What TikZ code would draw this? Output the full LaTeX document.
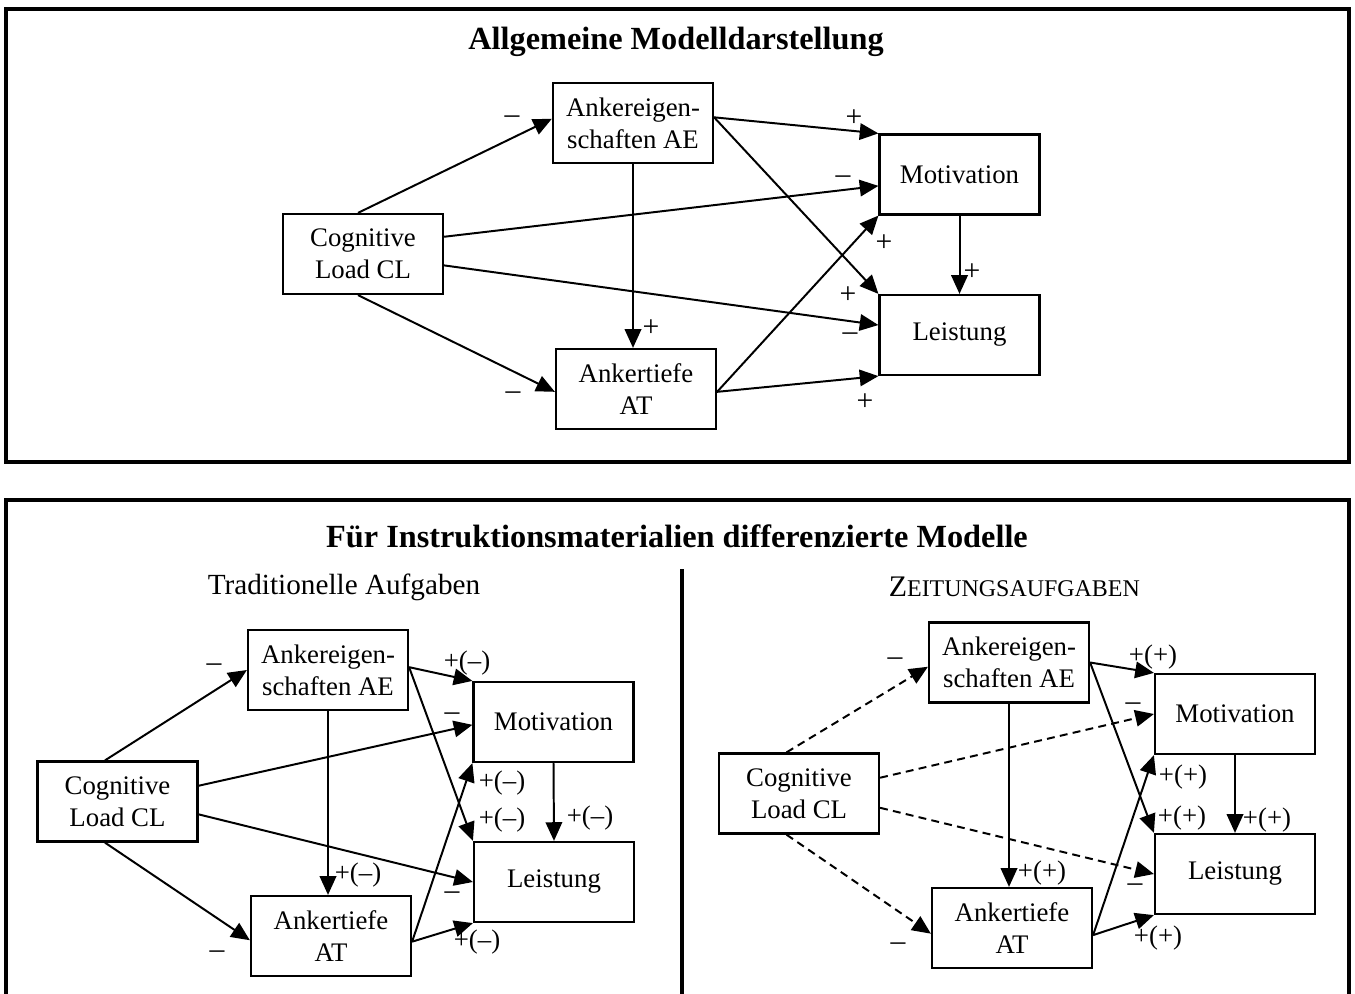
\documentclass[tikz,border=0pt]{standalone}
\usepackage{fontspec}
\setmainfont{Liberation Serif}
\usetikzlibrary{arrows.meta}
\usetikzlibrary{calc}

\tikzset{
  box/.style = {draw, line width=1pt, minimum width=2.56cm, minimum height=1.28cm,
    align=center, inner sep=0pt, font=\fontsize{12.2}{14.5}\selectfont},
  arr/.style = {line width=0.9pt, -{Triangle[length=8.5pt,width=7.5pt]}},
  dsh/.style = {arr, dash pattern=on 3.6pt off 2.4pt},
  sgn/.style = {inner sep=0pt, font=\fontsize{12.2}{14}\selectfont},
  bigsgn/.style = {sgn, font=\fontsize{13.5}{15}\selectfont},
  panel/.style = {line width=1.4pt},
  heading/.style = {font=\fontsize{14.7}{17}\selectfont\bfseries},
}

\begin{document}
\begin{tikzpicture}
  \useasboundingbox (0,0) rectangle (21.68,-15.904);

  % frames
  \draw [panel] (0.096,-0.144) rectangle (21.584,-7.392);
  \draw [panel] (0.096,-15.904) -- (0.096,-8.0) -- (21.584,-8.0) -- (21.584,-15.904);
  \draw [panel] (10.912,-9.104) -- (10.912,-15.904);

  \node [heading] (title) at (10.816,-0.672) {Allgemeine Modelldarstellung};
  \node [heading] (title2) at (10.832,-8.576) {Für Instruktionsmaterialien differenzierte Modelle};
  \node [font=\fontsize{13.3}{15}\selectfont] (trad) at (5.504,-9.392) {Traditionelle Aufgaben};
  \node (zeit) at (16.23,-9.392)
    {\fontsize{13.6}{15}\selectfont Z\fontsize{10.9}{12}\selectfont EITUNGSAUFGABEN};

  % general model
  \node [box] (cl) at (5.808,-4.064) {Cognitive\\Load CL};
  \node [box] (ae) at (10.128,-1.968) {Ankereigen-\\schaften AE};
  \node [box] (atf) at (10.176,-6.224) {Ankertiefe\\AT};
  \node [box] (mot) at (15.352,-2.792) {Motivation};
  \node [box] (lei) at (15.352,-5.36) {Leistung};

  \draw [arr] (cl.97) -- (ae.177);
  \draw [arr] (cl.12) -- (mot.188);
  \draw [arr] (cl.-8) -- (lei.173);
  \draw [arr] (cl.263) -- (atf.182);
  \draw [arr] (ae.south) -- (ae.south |- atf.north);
  \draw [arr] (ae.4) -- (mot.north west);
  \draw [arr] (ae.4) -- (lei.north west);
  \draw [arr] (atf.-2) -- (mot.south west);
  \draw [arr] (atf.-2) -- (lei.south west);
  \draw [arr] (mot.south) -- (lei.north);

  \node [bigsgn] (s1) at (8.192,-1.92) {–};
  \node [bigsgn] (s2) at (13.488,-2.88) {–};
  \node [bigsgn] (s3) at (13.6,-5.392) {–};
  \node [bigsgn] (s4) at (8.208,-6.336) {–};
  \node [bigsgn] (s5) at (10.416,-5.248) {+};
  \node [bigsgn] (s6) at (13.664,-1.888) {+};
  \node [bigsgn] (s7) at (13.568,-4.72) {+};
  \node [bigsgn] (s8) at (14.144,-3.888) {+};
  \node [bigsgn] (s9) at (13.84,-6.432) {+};
  \node [bigsgn] (s10) at (15.552,-4.352) {+};

  % traditional tasks
  \node [box] (cl1) at (1.88,-12.824) {Cognitive\\Load CL};
  \node [box] (ae1) at (5.248,-10.72) {Ankereigen-\\schaften AE};
  \node [box] (atf1) at (5.296,-14.976) {Ankertiefe\\AT};
  \node [box] (mot1) at (8.856,-11.552) {Motivation};
  \node [box] (lei1) at (8.864,-14.112) {Leistung};

  \draw [arr] (cl1.107) -- (ae1.west);
  \draw [arr] (cl1.11) -- (mot1.182);
  \draw [arr] (cl1.-9) -- (lei1.west);
  \draw [arr] (cl1.253) -- (atf1.183);
  \draw [arr] (ae1.south) -- (ae1.south |- atf1.north);
  \draw [arr] (ae1.2) -- (mot1.north west);
  \draw [arr] (ae1.2) -- (lei1.north west);
  \draw [arr] (atf1.-4) -- (mot1.south west);
  \draw [arr] (atf1.-4) -- (lei1.south west);
  \draw [arr] (mot1.south) -- (lei1.north);

  \node [bigsgn] (t1) at (3.424,-10.688) {–};
  \node [bigsgn] (t2) at (7.232,-11.472) {–};
  \node [bigsgn] (t3) at (7.232,-14.336) {–};
  \node [bigsgn] (t4) at (3.472,-15.28) {–};
  \node [sgn] (t5) at (5.728,-14.0) {+(–)};
  \node [sgn] (t6) at (7.472,-10.608) {+(–)};
  \node [sgn] (t7) at (8.032,-13.12) {+(–)};
  \node [sgn] (t8) at (8.032,-12.528) {+(–)};
  \node [sgn] (t9) at (7.632,-15.072) {+(–)};
  \node [sgn] (t10) at (9.44,-13.088) {+(–)};

  % newspaper tasks
  \node [box] (cl2) at (12.784,-12.696) {Cognitive\\Load CL};
  \node [box] (ae2) at (16.144,-10.6) {Ankereigen-\\schaften AE};
  \node [box] (atf2) at (16.192,-14.848) {Ankertiefe\\AT};
  \node [box] (mot2) at (19.76,-11.424) {Motivation};
  \node [box] (lei2) at (19.76,-13.984) {Leistung};

  \draw [dsh] (cl2.107) -- (ae2.183);
  \draw [dsh] (cl2.11) -- (mot2.west);
  \draw [dsh] (cl2.-10) -- (lei2.west);
  \draw [dsh] (cl2.253) -- (atf2.184);
  \draw [arr] (ae2.south) -- (ae2.south |- atf2.north);
  \draw [arr] (ae2.east) -- (mot2.north west);
  \draw [arr] (ae2.east) -- (lei2.north west);
  \draw [arr] (atf2.-5) -- (mot2.south west);
  \draw [arr] (atf2.-5) -- (lei2.south west);
  \draw [arr] (mot2.south) -- (lei2.north);

  \node [bigsgn] (z1) at (14.32,-10.592) {–};
  \node [bigsgn] (z2) at (18.128,-11.312) {–};
  \node [bigsgn] (z3) at (18.16,-14.208) {–};
  \node [bigsgn] (z4) at (14.368,-15.152) {–};
  \node [sgn] (z5) at (16.672,-13.968) {+(+)};
  \node [sgn] (z6) at (18.448,-10.512) {+(+)};
  \node [sgn] (z7) at (18.912,-13.088) {+(+)};
  \node [sgn] (z8) at (18.928,-12.432) {+(+)};
  \node [sgn] (z9) at (18.528,-15.008) {+(+)};
  \node [sgn] (z10) at (20.272,-13.12) {+(+)};
\end{tikzpicture}
\end{document}
